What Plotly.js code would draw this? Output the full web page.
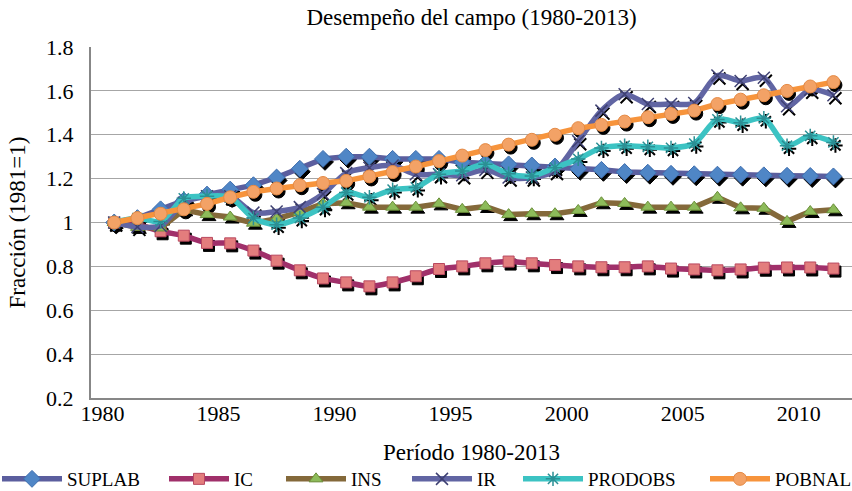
<!DOCTYPE html>
<html><head><meta charset="utf-8">
<script src="https://cdn.plot.ly/plotly-3.0.1.min.js"></script>
<style>html,body{margin:0;padding:0;background:#fff}#chart{width:852px;height:491px}</style>
</head><body><div id="chart"></div>
<script>
const years = [1981,1982,1983,1984,1985,1986,1987,1988,1989,1990,1991,1992,1993,1994,1995,1996,
               1997,1998,1999,2000,2001,2002,2003,2004,2005,2006,2007,2008,2009,2010,2011,2012];
const SUPLAB  = [1.00,1.02,1.06,1.10,1.127,1.15,1.17,1.205,1.245,1.29,1.30,1.30,1.29,1.29,1.29,1.275,
                 1.27,1.265,1.26,1.255,1.245,1.24,1.23,1.227,1.222,1.22,1.218,1.218,1.215,1.213,1.212,1.21];
const IC      = [1.00,0.99,0.96,0.94,0.907,0.905,0.872,0.826,0.782,0.745,0.727,0.709,0.727,0.755,0.788,0.80,
                 0.814,0.822,0.814,0.806,0.80,0.796,0.796,0.80,0.79,0.786,0.782,0.786,0.794,0.795,0.795,0.79];
const INS     = [1.00,0.978,0.975,1.058,1.036,1.025,0.997,1.017,1.047,1.085,1.09,1.07,1.07,1.07,1.085,1.06,
                 1.073,1.036,1.04,1.04,1.055,1.09,1.087,1.07,1.07,1.07,1.115,1.067,1.065,1.005,1.05,1.058];
const IR      = [1.00,0.98,0.985,1.09,1.12,1.12,1.045,1.05,1.07,1.13,1.225,1.25,1.26,1.22,1.22,1.215,
                 1.24,1.205,1.205,1.235,1.37,1.51,1.585,1.54,1.54,1.545,1.67,1.645,1.66,1.53,1.605,1.58];
const PRODOBS = [1.00,1.02,1.005,1.11,1.12,1.115,1.02,0.99,1.02,1.07,1.137,1.115,1.15,1.16,1.22,1.235,
                 1.265,1.222,1.212,1.25,1.29,1.34,1.35,1.345,1.34,1.36,1.47,1.455,1.475,1.35,1.395,1.365];
const POBNAL  = [1.00,1.02,1.04,1.06,1.085,1.115,1.14,1.155,1.17,1.18,1.19,1.21,1.23,1.255,1.28,1.305,
                 1.33,1.355,1.377,1.40,1.43,1.445,1.46,1.48,1.495,1.51,1.54,1.56,1.58,1.60,1.62,1.64];
const xTickLabels = ['1980','1985','1990','1995','2000','2005','2010'];
const yTickVals = [0.2,0.4,0.6,0.8,1,1.2,1.4,1.6,1.8];
const yTickText = ['0.2','0.4','0.6','0.8','1','1.2','1.4','1.6','1.8'];

const seriesDefs = [
  {name:'SUPLAB', y:SUPLAB, line:'#5B5E9E', shape:'linear', sym:'diamond', size:13, fill:'#4F86C6', edge:'#3D6DAE', lx:-3},
  {name:'IC', y:IC, line:'#A0306A', shape:'spline', sym:'square', size:11, fill:'#E37D7D', edge:'#B9485F', lx:164},
  {name:'INS', y:INS, line:'#84693A', shape:'linear', sym:'triangle-up', size:12, fill:'#8DBB5A', edge:'#6B8F3A', lx:281},
  {name:'IR', y:IR, line:'#6165A3', shape:'spline', sym:'x-thin', size:12, fill:'#3E4072', edge:'#3E4072', lx:407},
  {name:'PRODOBS', y:PRODOBS, line:'#3CC3C3', shape:'spline', sym:'asterisk', size:12, fill:'#2B8F94', edge:'#2B8F94', lx:518},
  {name:'POBNAL', y:POBNAL, line:'#F7943C', shape:'linear', sym:'circle', size:13, fill:'#F3A266', edge:'#E58A45', lx:705}
];

const W = 852, H = 491, ML = 91, MR = 0, MT = 47, MB = 93;
const XR = [1980, 2012.8], YR = [0.2, 1.8];
const PW = W-ML-MR, PH = H-MT-MB;
const pxX = PW/(XR[1]-XR[0]), pxY = PH/(YR[1]-YR[0]);
const sdx = 2, sdy = 3;

const traces = [];
seriesDefs.forEach(s => {
  const open = (s.sym==='x-thin' || s.sym==='asterisk');
  traces.push({
    type:'scatter', mode:'markers', x:years, y:s.y, xaxis:'x', yaxis:'y',
    showlegend:false, hoverinfo:'skip',
    marker:{symbol:s.sym, size:s.size, color:'#000', line:{color:'#000', width: open?2:1}}
  });
});
seriesDefs.forEach((s,i) => {
  const open = (s.sym==='x-thin' || s.sym==='asterisk');
  traces.push({
    type:'scatter', mode:'lines+markers', name:s.name, x:years, y:s.y, xaxis:'x2', yaxis:'y2',
    legend: i===0 ? 'legend' : 'legend'+(i+1),
    line:{color:s.line, width:5.5, shape:s.shape, smoothing:0.8},
    marker:{symbol:s.sym, size:s.size, color:s.fill, line:{color:s.edge, width: open?1.5:1}}
  });
});

const font = 'Liberation Serif, Times New Roman, serif';
const layout = {
  width:W, height:H, margin:{l:ML, r:MR, t:MT, b:MB, autoexpand:false},
  paper_bgcolor:'#fff', plot_bgcolor:'#fff',
  font:{family:font, color:'#000', size:21},
  title:{text:'Desempeño del campo (1980-2013)', x:0.5, xref:'paper', xanchor:'center', y:0.965, yanchor:'middle', font:{size:23, family:font}},
  xaxis:{visible:false, range:[XR[0]-sdx/pxX, XR[1]-sdx/pxX], fixedrange:true},
  yaxis:{visible:false, range:[YR[0]+sdy/pxY, YR[1]+sdy/pxY], fixedrange:true},
  xaxis2:{overlaying:'x', anchor:'y2', side:'bottom', range:XR, tickvals:xTickLabels.map(v=>+v+0.5), ticktext:xTickLabels,
         showgrid:false, zeroline:false, showline:true, linecolor:'#878787', linewidth:2, ticks:'', tickfont:{size:22},
         ticklabelstandoff:-5,
         title:{text:'Período 1980-2013', font:{size:23}, standoff:18}},
  yaxis2:{overlaying:'y', anchor:'x2', side:'left', range:YR, tickvals:yTickVals, ticktext:yTickText, showgrid:true, gridcolor:'#A6A6A6', gridwidth:1,
         zeroline:false, showline:true, linecolor:'#878787', linewidth:2, ticks:'', tickfont:{size:22},
         ticklabelstandoff:11,
         title:{text:'Fracción (1981=1)', font:{size:23}, standoff:14}},
  showlegend:true
};
seriesDefs.forEach((s,i) => {
  const key = i===0 ? 'legend' : 'legend'+(i+1);
  layout[key] = {orientation:'h', x:(s.lx-ML)/PW, xanchor:'left', y:(MT+PH-460)/PH, yanchor:'top',
                 font:{size:19, family:font}, itemwidth:60, bgcolor:'rgba(0,0,0,0)', borderwidth:0};
});
Plotly.newPlot('chart', traces, layout, {displayModeBar:false, staticPlot:true});
</script></body></html>
